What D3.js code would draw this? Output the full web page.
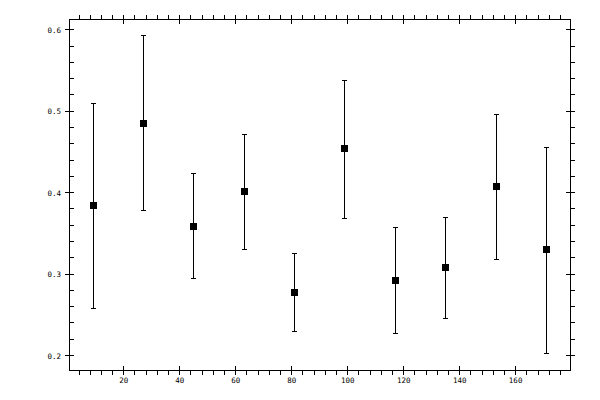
<!DOCTYPE html>
<html>
<head>
<meta charset="utf-8">
<script src="https://cdn.jsdelivr.net/npm/d3@7"></script>
<style>
  body { margin: 0; background: #fff; }
  svg { display: block; }
</style>
</head>
<body>
<div id="chart"></div>
<script>
// values
const xValues = [9, 27, 45, 63, 81, 99, 117, 135, 153, 171]
const yValues = [0.384, 0.485, 0.359, 0.401, 0.277, 0.454, 0.292, 0.308, 0.407, 0.330]
const yUpper = [0.509, 0.593, 0.424, 0.472, 0.325, 0.538, 0.357, 0.370, 0.496, 0.456]
const yLower = [0.258, 0.378, 0.294, 0.330, 0.229, 0.368, 0.227, 0.246, 0.318, 0.202]
const xTickLabels = [20, 40, 60, 80, 100, 120, 140, 160]
const yTickLabels = [0.2, 0.3, 0.4, 0.5, 0.6]

const svg_width = 600
const svg_height = 400
const frame_left = 69, frame_right = 570, frame_top = 19, frame_bottom = 370

const data = xValues.map((x, i) => ({x: x, y: yValues[i], hi: yUpper[i], lo: yLower[i]}))

const xScale = d3.scaleLinear()
        .domain([0.6, 179.6])
        .range([frame_left, frame_right])

const yScale = d3.scaleLinear()
        .domain([0.1816, 0.6127])
        .range([frame_bottom, frame_top])

// minor ticks every 4 on x, every 0.02 on y
const xMinor = d3.range(4, 180, 4).filter(v => v % 20 !== 0)
const yMinor = d3.range(11, 31).map(v => v * 0.02).filter(v => Math.round(v * 100) % 10 !== 0)

const svg = d3.select('#chart')
        .append('svg')
        .attr('width', svg_width)
        .attr('height', svg_height)
        .attr('viewBox', `0 0 ${svg_width} ${svg_height}`)

const g = svg.append('g')
        .attr('stroke', 'black')
        .attr('stroke-width', 1)
        .attr('shape-rendering', 'crispEdges')

// frame
g.append('rect')
    .attr('x', frame_left + 0.5)
    .attr('y', frame_top + 0.5)
    .attr('width', frame_right - frame_left)
    .attr('height', frame_bottom - frame_top)
    .attr('fill', 'none')

// major ticks cross the frame
g.selectAll('.xmaj')
    .data(xTickLabels)
    .join('g')
      .attr('class', 'xmaj')
      .each(function (d) {
          const x = Math.round(xScale(d)) + 0.5
          d3.select(this).append('line').attr('x1', x).attr('x2', x).attr('y1', frame_bottom - 4).attr('y2', frame_bottom + 5)
          d3.select(this).append('line').attr('x1', x).attr('x2', x).attr('y1', frame_top - 4).attr('y2', frame_top + 5)
      })

g.selectAll('.ymaj')
    .data(yTickLabels)
    .join('g')
      .attr('class', 'ymaj')
      .each(function (d) {
          const y = Math.round(yScale(d)) + 0.5
          d3.select(this).append('line').attr('x1', frame_left - 4).attr('x2', frame_left + 5).attr('y1', y).attr('y2', y)
          d3.select(this).append('line').attr('x1', frame_right - 4).attr('x2', frame_right + 5).attr('y1', y).attr('y2', y)
      })

// minor ticks: bottom and top point outward, left inward, right outward
g.selectAll('.xmin')
    .data(xMinor)
    .join('g')
      .attr('class', 'xmin')
      .each(function (d) {
          const x = Math.round(xScale(d)) + 0.5
          d3.select(this).append('line').attr('x1', x).attr('x2', x).attr('y1', frame_bottom).attr('y2', frame_bottom + 5)
          d3.select(this).append('line').attr('x1', x).attr('x2', x).attr('y1', frame_top - 4).attr('y2', frame_top + 1)
      })

g.selectAll('.ymin')
    .data(yMinor)
    .join('g')
      .attr('class', 'ymin')
      .each(function (d) {
          const y = Math.round(yScale(d)) + 0.5
          d3.select(this).append('line').attr('x1', frame_left).attr('x2', frame_left + 5).attr('y1', y).attr('y2', y)
          d3.select(this).append('line').attr('x1', frame_right).attr('x2', frame_right + 5).attr('y1', y).attr('y2', y)
      })

// tick labels
svg.selectAll('.xlabel')
    .data(xTickLabels)
    .join('text')
      .attr('class', 'xlabel')
      .text(d => d)
      .attr('x', d => xScale(d) + 0.5)
      .attr('y', 383)
      .attr('text-anchor', 'middle')
      .attr('font-family', 'DejaVu Sans Mono')
      .attr('font-size', '7.5px')
      .attr('fill', 'black')

svg.selectAll('.ylabel')
    .data(yTickLabels)
    .join('text')
      .attr('class', 'ylabel')
      .text(d => d.toFixed(1))
      .attr('x', 61)
      .attr('y', d => yScale(d) + 3.5)
      .attr('text-anchor', 'end')
      .attr('font-family', 'DejaVu Sans Mono')
      .attr('font-size', '7.5px')
      .attr('fill', 'black')

// error bars
const bars = g.selectAll('.err')
    .data(data)
    .join('g')
      .attr('class', 'err')

bars.append('line')
    .attr('x1', d => Math.round(xScale(d.x)) + 0.5)
    .attr('x2', d => Math.round(xScale(d.x)) + 0.5)
    .attr('y1', d => yScale(d.hi))
    .attr('y2', d => yScale(d.lo))

bars.append('line')
    .attr('x1', d => Math.round(xScale(d.x)) - 2)
    .attr('x2', d => Math.round(xScale(d.x)) + 3)
    .attr('y1', d => Math.round(yScale(d.hi)) + 0.5)
    .attr('y2', d => Math.round(yScale(d.hi)) + 0.5)

bars.append('line')
    .attr('x1', d => Math.round(xScale(d.x)) - 2)
    .attr('x2', d => Math.round(xScale(d.x)) + 3)
    .attr('y1', d => Math.round(yScale(d.lo)) + 0.5)
    .attr('y2', d => Math.round(yScale(d.lo)) + 0.5)

// square markers
svg.selectAll('.pt')
    .data(data)
    .join('rect')
      .attr('class', 'pt')
      .attr('x', d => Math.round(xScale(d.x)) - 3)
      .attr('y', d => Math.round(yScale(d.y)) - 3)
      .attr('width', 7)
      .attr('height', 7)
      .attr('fill', 'black')
      .attr('shape-rendering', 'crispEdges')
</script>
</body>
</html>
